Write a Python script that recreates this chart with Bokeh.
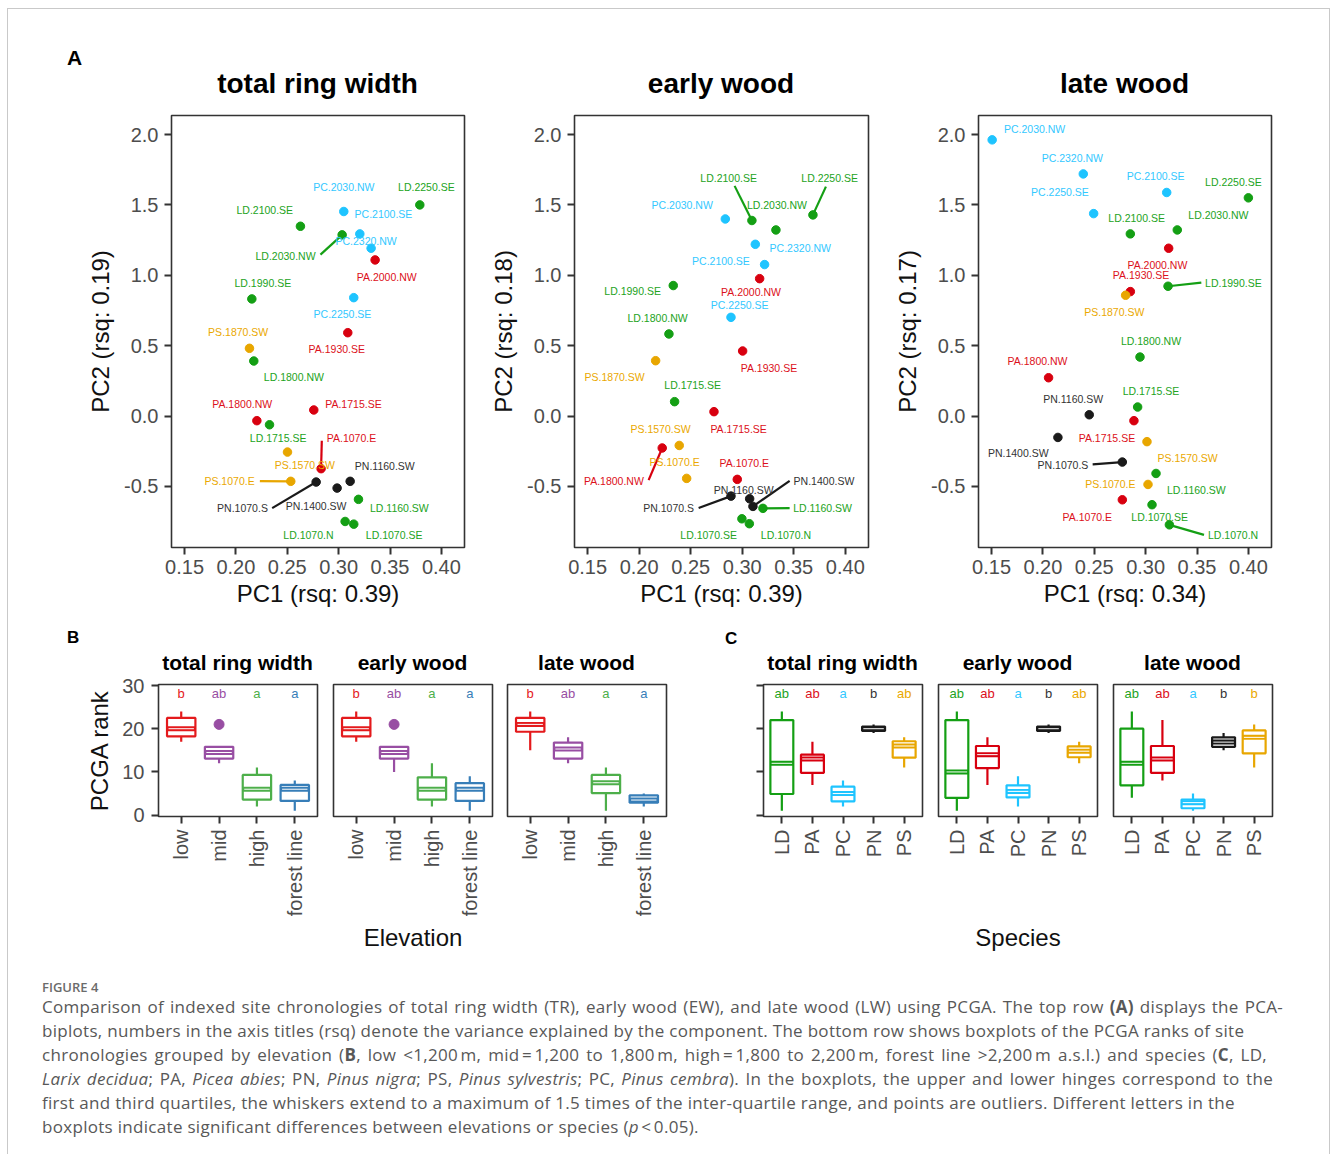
import math
from bokeh.plotting import figure
from bokeh.models import Range1d, FixedTicker, NumeralTickFormatter, ColumnDataSource, Div
from bokeh.layouts import row, column
from bokeh.embed import file_html
from bokeh.resources import INLINE
from bokeh.core.properties import value

FONT = "Liberation Sans"
CAP_FONT = "Open Sans"

# ---------------------------------------------------------------- data (A)
sites = ["LD.1070.N", "LD.1070.SE", "LD.1160.SW", "LD.1715.SE", "LD.1800.NW", "LD.1990.SE",
         "LD.2030.NW", "LD.2100.SE", "LD.2250.SE", "PA.1070.E", "PA.1715.SE", "PA.1800.NW",
         "PA.1930.SE", "PA.2000.NW", "PC.2030.NW", "PC.2100.SE", "PC.2250.SE", "PC.2320.NW",
         "PN.1070.S", "PN.1160.SW", "PN.1400.SW", "PS.1070.E", "PS.1570.SW", "PS.1870.SW"]

species_colors = {"LD": "#149f14", "PA": "#d8000f", "PC": "#1ec4ff", "PN": "#1a1a1a", "PS": "#e8a600"}
label_colors = {"LD": "#22a322", "PA": "#dc1020", "PC": "#33c8ff", "PN": "#333333", "PS": "#eaa800"}

# total ring width
tr_pc1 = [0.3063, 0.3147, 0.3193, 0.2327, 0.2174, 0.2155, 0.3034, 0.2628, 0.3790, 0.2829, 0.2758, 0.2204,
          0.3089, 0.3355, 0.3050, 0.3206, 0.3147, 0.3316, 0.2781, 0.3112, 0.2985, 0.2534, 0.2502, 0.2132]
tr_pc2 = [-0.749, -0.768, -0.592, -0.062, 0.391, 0.832, 1.287, 1.348, 1.500, -0.374, 0.043, -0.033,
          0.592, 1.109, 1.453, 1.294, 0.841, 1.192, -0.469, -0.464, -0.512, -0.464, -0.256, 0.481]
tr_lab_x = [0.2706, 0.3540, 0.3591, 0.2411, 0.2564, 0.2262, 0.2483, 0.2281, 0.3854, 0.3125, 0.3144, 0.2061,
            0.2982, 0.3468, 0.3050, 0.3436, 0.3037, 0.3267, 0.2064, 0.3449, 0.2781, 0.1938, 0.2671, 0.2022]
tr_lab_y = [-0.846, -0.846, -0.654, -0.159, 0.275, 0.948, 1.137, 1.464, 1.626, -0.159, 0.083, 0.083,
            0.474, 0.990, 1.630, 1.434, 0.727, 1.246, -0.654, -0.355, -0.637, -0.464, -0.351, 0.600]
tr_seg_sites = ["LD.2030.NW", "PA.1070.E", "PN.1070.S", "PS.1070.E"]
tr_seg_x = [0.2823, 0.2836, 0.2353, 0.2233]
tr_seg_y = [1.147, -0.175, -0.654, -0.462]

# early wood
ew_pc1 = [0.3069, 0.2997, 0.3201, 0.2344, 0.2289, 0.2331, 0.3327, 0.3094, 0.3686, 0.2952, 0.2726, 0.2224,
          0.3004, 0.3169, 0.2836, 0.3217, 0.2891, 0.3127, 0.2891, 0.3072, 0.3104, 0.2461, 0.2389, 0.2160]
ew_pc2 = [-0.765, -0.730, -0.656, 0.102, 0.583, 0.927, 1.322, 1.389, 1.429, -0.450, 0.031, -0.227,
          0.462, 0.976, 1.400, 1.076, 0.701, 1.220, -0.569, -0.588, -0.642, -0.443, -0.209, 0.393]
ew_lab_x = [0.3424, 0.2674, 0.3780, 0.2519, 0.2179, 0.1937, 0.3337, 0.2868, 0.3848, 0.3020, 0.2965, 0.1755,
            0.3259, 0.3085, 0.2418, 0.2794, 0.2975, 0.3563, 0.2286, 0.3014, 0.3793, 0.2344, 0.2208, 0.1762]
ew_lab_y = [-0.846, -0.846, -0.654, 0.220, 0.697, 0.889, 1.502, 1.694, 1.694, -0.332, -0.090, -0.460,
            0.344, 0.884, 1.502, 1.102, 0.789, 1.197, -0.654, -0.524, -0.460, -0.327, -0.095, 0.275]
ew_seg_sites = ["LD.1160.SW", "LD.2100.SE", "LD.2250.SE", "PA.1800.NW", "PN.1070.S", "PN.1400.SW"]
ew_seg_x = [0.3460, 0.2926, 0.3812, 0.2092, 0.2577, 0.3460]
ew_seg_y = [-0.654, 1.635, 1.630, -0.455, -0.654, -0.460]

# late wood
lw_pc1 = [0.3231, 0.3062, 0.3101, 0.2922, 0.2945, 0.3218, 0.3308, 0.2851, 0.4000, 0.2773, 0.2886, 0.2055,
          0.2851, 0.3224, 0.1506, 0.3205, 0.2494, 0.2393, 0.2773, 0.2451, 0.2146, 0.3023, 0.3013, 0.2805]
lw_pc2 = [-0.773, -0.630, -0.408, 0.064, 0.419, 0.922, 1.322, 1.294, 1.550, -0.595, -0.033, 0.272,
          0.884, 1.192, 1.962, 1.588, 1.438, 1.720, -0.327, 0.009, -0.152, -0.486, -0.182, 0.858]
lw_lab_x = [0.3851, 0.3136, 0.3494, 0.3052, 0.3052, 0.3854, 0.3708, 0.2912, 0.3854, 0.2432, 0.2623, 0.1948,
            0.2955, 0.3114, 0.1919, 0.3097, 0.2166, 0.2286, 0.2195, 0.2295, 0.1760, 0.2656, 0.3409, 0.2695]
lw_lab_y = [-0.846, -0.716, -0.524, 0.178, 0.536, 0.948, 1.429, 1.410, 1.666, -0.716, -0.154, 0.389,
            1.000, 1.071, 2.040, 1.704, 1.590, 1.836, -0.346, 0.123, -0.265, -0.481, -0.296, 0.739]
lw_seg_sites = ["LD.1070.N", "LD.1990.SE", "PN.1070.S"]
lw_seg_x = [0.3568, 0.3542, 0.2484]
lw_seg_y = [-0.844, 0.948, -0.344]

pc1_ticks = [0.15, 0.20, 0.25, 0.30, 0.35, 0.40]
pc2_ticks = [-0.5, 0.0, 0.5, 1.0, 1.5, 2.0]

# ---------------------------------------------------------------- data (B)
elev_groups = ["low", "mid", "high", "forest line"]
elev_colors = ["#e41a1c", "#984ea3", "#4daf4a", "#377eb8"]
elev_letters = ["b", "ab", "a", "a"]

elev_tr_lo = [17.0, 12.0, 2.0, 1.0]
elev_tr_q1 = [18.25, 13.1, 3.6, 3.3]
elev_tr_med = [20.0, 14.5, 6.0, 6.0]
elev_tr_q3 = [22.5, 15.8, 9.3, 7.0]
elev_tr_hi = [24.0, 15.8, 11.0, 8.0]
elev_tr_out_group = ["mid"]
elev_tr_out = [21.0]

elev_ew_lo = [17.0, 10.0, 2.0, 1.0]
elev_ew_q1 = [18.25, 13.1, 3.6, 3.3]
elev_ew_med = [20.0, 14.5, 6.0, 6.0]
elev_ew_q3 = [22.5, 15.8, 8.75, 7.4]
elev_ew_hi = [24.0, 15.8, 12.0, 9.0]
elev_ew_out_group = ["mid"]
elev_ew_out = [21.0]

elev_lw_lo = [15.0, 12.0, 1.0, 2.0]
elev_lw_q1 = [19.3, 13.1, 5.1, 2.9]
elev_lw_med = [21.0, 15.3, 7.5, 3.5]
elev_lw_q3 = [22.5, 16.8, 9.3, 4.6]
elev_lw_hi = [24.0, 18.0, 11.0, 5.0]
elev_lw_out_group = []
elev_lw_out = []

# ---------------------------------------------------------------- data (C)
spec_groups = ["LD", "PA", "PC", "PN", "PS"]
spec_colors = [species_colors[s] for s in spec_groups]
spec_letter_colors = ["#22a322", "#dc1020", "#33c8ff", "#333333", "#eaa800"]
spec_tr_letters = ["ab", "ab", "a", "b", "ab"]
spec_ew_letters = ["ab", "ab", "a", "b", "ab"]
spec_lw_letters = ["ab", "ab", "a", "b", "b"]

spec_tr_lo = [1.0, 7.0, 2.0, 19.0, 11.0]
spec_tr_q1 = [4.9, 9.8, 3.2, 19.5, 13.3]
spec_tr_med = [12.0, 13.0, 5.0, 20.0, 16.0]
spec_tr_q3 = [22.0, 14.0, 6.6, 20.5, 17.1]
spec_tr_hi = [24.0, 17.0, 8.0, 21.0, 18.0]

spec_ew_lo = [1.0, 7.0, 2.0, 19.0, 12.0]
spec_ew_q1 = [4.0, 10.9, 4.1, 19.5, 13.4]
spec_ew_med = [10.0, 14.0, 5.5, 20.0, 14.8]
spec_ew_q3 = [22.0, 16.0, 6.9, 20.5, 15.9]
spec_ew_hi = [24.0, 18.0, 9.0, 21.0, 17.0]

spec_lw_lo = [4.0, 8.0, 1.0, 15.0, 11.0]
spec_lw_q1 = [6.9, 9.8, 1.6, 15.8, 14.3]
spec_lw_med = [12.0, 13.0, 2.9, 16.9, 18.0]
spec_lw_q3 = [20.0, 16.0, 3.6, 18.0, 19.6]
spec_lw_hi = [24.0, 22.0, 5.0, 19.0, 21.0]

rank_ticks = [0, 10, 20, 30]
letter_y = 28.2

# ---------------------------------------------------------------- helpers
def style_axis(ax, tick_size, label_size, tick_standoff, label_standoff):
    ax.axis_line_color = None
    ax.major_tick_line_color = "#333333"
    ax.major_tick_line_width = 2
    ax.major_tick_out = 7
    ax.major_tick_in = 0
    ax.minor_tick_line_color = None
    ax.major_label_text_font = FONT
    ax.major_label_text_font_size = tick_size
    ax.major_label_text_color = "#4d4d4d"
    ax.major_label_standoff = tick_standoff
    ax.axis_label_text_font = FONT
    ax.axis_label_text_font_size = label_size
    ax.axis_label_text_font_style = "normal"
    ax.axis_label_text_color = "#111111"
    ax.axis_label_standoff = label_standoff


def base_fig(width, height, xr, yr, left, right, top, bottom, y_axis=True):
    p = figure(width=width, height=height, x_range=Range1d(*xr), y_range=Range1d(*yr),
               output_backend="svg", toolbar_location=None,
               y_axis_location="left" if y_axis else None,
               min_border_left=left, min_border_right=right,
               min_border_top=top, min_border_bottom=bottom, margin=0)
    p.xgrid.visible = False
    p.ygrid.visible = False
    p.outline_line_color = "#333333"
    p.outline_line_width = 1.6
    p.background_fill_color = "white"
    p.border_fill_color = "white"
    return p


def scatter_panel(width, left, right, pc1, pc2, labx, laby, seg_sites, segx, segy, xlabel, ylabel):
    p = base_fig(width, 520, (0.1373, 0.4225), (-0.934, 2.135), left, right, 15, 73)
    sp = [s[:2] for s in sites]
    idx = [sites.index(s) for s in seg_sites]
    seg_src = ColumnDataSource(dict(x0=segx, y0=segy,
                                    x1=[pc1[i] for i in idx], y1=[pc2[i] for i in idx],
                                    c=[species_colors[sp[i]] for i in idx]))
    p.segment("x0", "y0", "x1", "y1", source=seg_src, line_color="c", line_width=2.2)
    src = ColumnDataSource(dict(x=pc1, y=pc2, lx=labx, ly=laby, name=sites,
                                c=[species_colors[s] for s in sp],
                                lc=[label_colors[s] for s in sp]))
    p.scatter("x", "y", source=src, size=8.5, fill_color="c", line_color="c")
    p.text("lx", "ly", text="name", source=src, text_color="lc", text_align="center",
           text_baseline="middle", text_font=value(FONT), text_font_size="10.5px")
    p.xaxis.ticker = FixedTicker(ticks=pc1_ticks)
    p.yaxis.ticker = FixedTicker(ticks=pc2_ticks)
    p.xaxis.formatter = NumeralTickFormatter(format="0.00")
    p.yaxis.formatter = NumeralTickFormatter(format="0.0")
    p.xaxis.axis_label = xlabel
    p.yaxis.axis_label = ylabel
    style_axis(p.xaxis[0], "20px", "24px", 5, 3)
    style_axis(p.yaxis[0], "20px", "24px", 6, 7)
    return p


def box_panel(width, left, right, groups, colors, letter_colors, lo, q1, med, q3, hi, letters,
              out_groups=(), out_vals=(), y_axis=False, show_y_labels=False, xlabel=None,
              xlabel_standoff=5):
    n = len(groups)
    xs = list(range(1, n + 1))
    p = base_fig(width, 286, (0.4, n + 0.6), (-0.31, 30.23), left, right, 10, 144, y_axis=y_axis)
    hw = 0.375
    src = ColumnDataSource(dict(x=xs, lo=lo, q1=q1, med=med, q3=q3, hi=hi, c=colors,
                                x0=[x - hw for x in xs], x1=[x + hw for x in xs],
                                w0=[x - 0.335 for x in xs], w1=[x + 0.335 for x in xs],
                                lt=letters, lc=letter_colors, ly=[letter_y] * n))
    p.segment("x", "q3", "x", "hi", source=src, line_color="c", line_width=2.2)
    p.segment("x", "lo", "x", "q1", source=src, line_color="c", line_width=2.2)
    p.vbar(x="x", width=2 * hw, bottom="q1", top="q3", source=src, fill_color="white",
           line_color="c", line_width=2.2)
    p.segment("x0", "med", "x1", "med", source=src, line_color="c", line_width=5)
    p.segment("w0", "med", "w1", "med", source=src, line_color="white", line_width=1)
    if out_groups:
        oi = [groups.index(g) for g in out_groups]
        osrc = ColumnDataSource(dict(x=[xs[i] for i in oi], y=list(out_vals),
                                     c=[colors[i] for i in oi]))
        p.scatter("x", "y", source=osrc, size=10, fill_color="c", line_color="c")
    p.text("x", "ly", text="lt", source=src, text_color="lc", text_align="center",
           text_baseline="middle", text_font=value(FONT), text_font_size="13px")
    p.xaxis.ticker = FixedTicker(ticks=xs)
    p.xaxis.major_label_overrides = {x: g for x, g in zip(xs, groups)}
    p.xaxis.major_label_orientation = math.pi / 2
    style_axis(p.xaxis[0], "20px", "24px", 6, xlabel_standoff)
    if xlabel:
        p.xaxis.axis_label = xlabel
    if y_axis:
        p.yaxis.ticker = FixedTicker(ticks=rank_ticks)
        style_axis(p.yaxis[0], "20px", "24px", 7, 6)
        if show_y_labels:
            p.yaxis.axis_label = "PCGA rank"
        else:
            p.yaxis.major_label_text_color = None
    return p


def tline(s, x, baseline, size, weight="bold", color="#000000", align="left", family=FONT,
          asc=0.8465, width=300, extra=""):
    top = baseline - asc * size
    if align == "center":
        left = x - width / 2
        al = "text-align:center;"
    else:
        left = x
        al = ""
    return (f'<div style="position:absolute;left:{left:.1f}px;top:{top:.1f}px;width:{width}px;{al}'
            f'font-family:\'{family}\';font-size:{size}px;font-weight:{weight};color:{color};'
            f'line-height:1;white-space:nowrap;{extra}">{s}</div>')


def text_div(width, height, items):
    html = (f'<div style="position:relative;width:{width}px;height:{height}px;overflow:hidden;">'
            + "".join(items) + '</div>')
    return Div(text=html, width=width, height=height, margin=0)


W = 1321
OX, OY = 8, 9  # page offset of content (inside the frame border)

# ---------------------------------------------------------------- row A
head_a = text_div(W, 91, [
    tline("A", 67 - OX, 65 - OY, 21),
    tline("total ring width", 317.5 - OX, 94 - OY, 28, align="center"),
    tline("early wood", 721 - OX, 94 - OY, 28, align="center"),
    tline("late wood", 1124.5 - OX, 94 - OY, 28, align="center"),
])

pa1 = scatter_panel(462, 163, 6, tr_pc1, tr_pc2, tr_lab_x, tr_lab_y, tr_seg_sites, tr_seg_x, tr_seg_y,
                    "PC1 (rsq: 0.39)", "PC2 (rsq: 0.19)")
pa2 = scatter_panel(404, 104, 6, ew_pc1, ew_pc2, ew_lab_x, ew_lab_y, ew_seg_sites, ew_seg_x, ew_seg_y,
                    "PC1 (rsq: 0.39)", "PC2 (rsq: 0.18)")
pa3 = scatter_panel(455, 104, 58, lw_pc1, lw_pc2, lw_lab_x, lw_lab_y, lw_seg_sites, lw_seg_x, lw_seg_y,
                    "PC1 (rsq: 0.34)", "PC2 (rsq: 0.17)")

# ---------------------------------------------------------------- row B / C
HY = 620
head_bc = text_div(W, 54, [
    tline("B", 67 - OX, 643 - HY, 17),
    tline("C", 725 - OX, 644 - HY, 17),
    tline("total ring width", 237.5 - OX, 670 - HY, 21, align="center", width=220),
    tline("early wood", 412.5 - OX, 670 - HY, 21, align="center", width=220),
    tline("late wood", 586.5 - OX, 670 - HY, 21, align="center", width=220),
    tline("total ring width", 842.5 - OX, 670 - HY, 21, align="center", width=220),
    tline("early wood", 1017.5 - OX, 670 - HY, 21, align="center", width=220),
    tline("late wood", 1192.5 - OX, 670 - HY, 21, align="center", width=220),
])

pb1 = box_panel(317, 150, 8, elev_groups, elev_colors, elev_colors, elev_tr_lo, elev_tr_q1, elev_tr_med,
                elev_tr_q3, elev_tr_hi, elev_letters, elev_tr_out_group, elev_tr_out,
                y_axis=True, show_y_labels=True)
pb2 = box_panel(175, 8, 8, elev_groups, elev_colors, elev_colors, elev_ew_lo, elev_ew_q1, elev_ew_med,
                elev_ew_q3, elev_ew_hi, elev_letters, elev_ew_out_group, elev_ew_out,
                xlabel="Elevation", xlabel_standoff=5)
pb3 = box_panel(200, 7, 34, elev_groups, elev_colors, elev_colors, elev_lw_lo, elev_lw_q1, elev_lw_med,
                elev_lw_q3, elev_lw_hi, elev_letters, elev_lw_out_group, elev_lw_out)
pc1f = box_panel(230, 63, 8, spec_groups, spec_colors, spec_letter_colors, spec_tr_lo, spec_tr_q1,
                 spec_tr_med, spec_tr_q3, spec_tr_hi, spec_tr_letters, y_axis=True, show_y_labels=False)
pc2f = box_panel(175, 8, 8, spec_groups, spec_colors, spec_letter_colors, spec_ew_lo, spec_ew_q1,
                 spec_ew_med, spec_ew_q3, spec_ew_hi, spec_ew_letters, xlabel="Species",
                 xlabel_standoff=64)
pc3f = box_panel(224, 8, 57, spec_groups, spec_colors, spec_letter_colors, spec_lw_lo, spec_lw_q1,
                 spec_lw_med, spec_lw_q3, spec_lw_hi, spec_lw_letters)

# ---------------------------------------------------------------- caption
CY = 960
cap_lines = [
    'Comparison of indexed site chronologies of total ring width (TR), early wood (EW), and late wood (LW) '
    'using PCGA. The top row <b>(A)</b> displays the PCA-',
    'biplots, numbers in the axis titles (rsq) denote the variance explained by the component. The bottom row '
    'shows boxplots of the PCGA ranks of site',
    'chronologies grouped by elevation (<b>B</b>, low &lt;1,200&#8239;m, mid&#8239;=&#8239;1,200 to 1,800&#8239;m, '
    'high&#8239;=&#8239;1,800 to 2,200&#8239;m, forest line &gt;2,200&#8239;m a.s.l.) and species (<b>C</b>, LD,',
    '<i>Larix decidua</i>; PA, <i>Picea abies</i>; PN, <i>Pinus nigra</i>; PS, <i>Pinus sylvestris</i>; PC, '
    '<i>Pinus cembra</i>). In the boxplots, the upper and lower hinges correspond to the',
    'first and third quartiles, the whiskers extend to a maximum of 1.5 times of the inter-quartile range, and '
    'points are outliers. Different letters in the',
    'boxplots indicate significant differences between elevations or species (<i>p</i>&#8239;&lt;&#8239;0.05).',
]
cap_ends = [1283, 1236, 1267, 1273, 1231, None]
cap_items = [tline("FIGURE 4", 42 - OX, 992.7 - CY, 13, weight="600", color="#6b6b6b",
                   family=CAP_FONT, asc=0.888)]
for k, (ln, end) in enumerate(zip(cap_lines, cap_ends)):
    base = 1013 + 24 * k
    if end is not None:
        cap_items.append(tline(ln, 42 - OX, base - CY, 17, weight="normal", color="#585858",
                               family=CAP_FONT, asc=0.888, width=end - 42,
                               extra="letter-spacing:0.3px;text-align:justify;text-align-last:justify;"))
    else:
        cap_items.append(tline(ln, 42 - OX, base - CY, 17, weight="normal", color="#585858",
                               family=CAP_FONT, asc=0.888, width=1200, extra="letter-spacing:0.3px;"))
caption = text_div(W, 194, cap_items)

layout = column(
    head_a,
    row(pa1, pa2, pa3, spacing=0, margin=0),
    head_bc,
    row(pb1, pb2, pb3, pc1f, pc2f, pc3f, spacing=0, margin=0),
    caption,
    spacing=0,
    margin=(8, 0, 0, 7),
    styles={"border-top": "1px solid #c9c9c9", "border-left": "1px solid #c9c9c9",
            "border-right": "1px solid #c9c9c9"},
)

open("out.html", "w").write(file_html(layout, INLINE))
